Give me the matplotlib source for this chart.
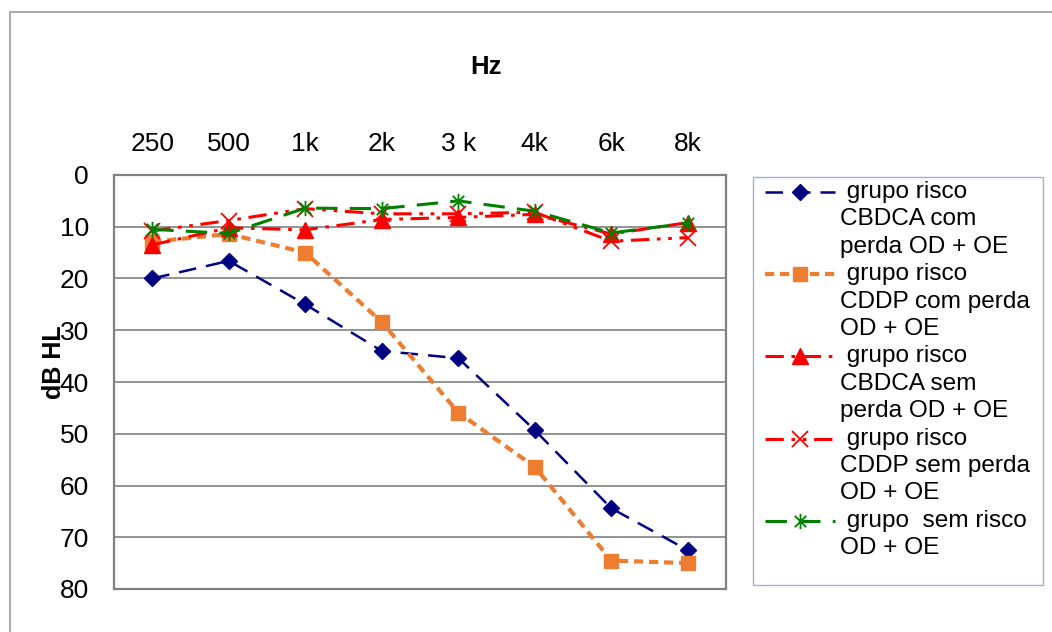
import matplotlib
matplotlib.use("Agg")
import matplotlib.pyplot as plt
from matplotlib.path import Path
from matplotlib.patches import Rectangle
from matplotlib.lines import Line2D

plt.rcParams['font.family'] = ['Liberation Sans', 'DejaVu Sans']

freqs = ["250", "500", "1k", "2k", "3 k", "4k", "6k", "8k"]
cbdca_com = [20, 16.6, 25, 34, 35.4, 49.3, 64.4, 72.5]
cddp_com = [12.9, 11.4, 15, 28.4, 45.9, 56.4, 74.5, 75]
cbdca_sem = [13.5, 10.2, 10.6, 8.6, 8.2, 7.6, 11.4, 9.2]
cddp_sem = [10.8, 8.8, 6.5, 7.5, 7.5, 7.2, 12.8, 12.1]
sem_risco = [10.5, 11.3, 6.4, 6.5, 5.0, 7.0, 11.2, 9.3]

labels = [
    [" grupo risco", "CBDCA com", "perda OD + OE"],
    [" grupo risco", "CDDP com perda", "OD + OE"],
    [" grupo risco", "CBDCA sem", "perda OD + OE"],
    [" grupo risco", "CDDP sem perda", "OD + OE"],
    [" grupo  sem risco", "OD + OE"],
]

W, H = 1052, 632
fig = plt.figure(figsize=(W / 100, H / 100), dpi=100)
fig.patches.append(Rectangle((10 / W, -0.05), 1.2, 1 - 12 / H + 0.05,
                             transform=fig.transFigure, fill=False,
                             edgecolor='#9a9a9a', lw=1.2))

ax = fig.add_axes([114 / W, 1 - 589 / H, (726 - 114) / W, (589 - 175) / H])
x = list(range(len(freqs)))

asterisk = Path([(0, -1), (0, 1), (-0.75, -0.75), (0.75, 0.75), (-0.75, 0.75), (0.75, -0.75)],
                [Path.MOVETO, Path.LINETO, Path.MOVETO, Path.LINETO, Path.MOVETO, Path.LINETO])

styles = [
    dict(color='#000080', lw=1.8, dashes=(7, 4), marker='D', markersize=8.5, zorder=3),
    dict(color='#ED7D31', lw=3.0, dashes=(2.2, 1.4), marker='s', markersize=9.5, zorder=3),
    dict(color='#FF0000', lw=2.2, dashes=(6, 2.5, 1.2, 2.5), marker='^', markersize=11, zorder=4),
    dict(color='#FF0000', lw=2.2, dashes=(6, 2.5, 1.2, 2.5, 1.2, 2.5), marker='x',
         markersize=11, markeredgewidth=1.3, zorder=4),
    dict(color='#008000', lw=2.2, dashes=(7, 4), marker=asterisk, markersize=11,
         markeredgewidth=1.3, markerfacecolor='none', markeredgecolor='#008000', zorder=5),
]
series = [cbdca_com, cddp_com, cbdca_sem, cddp_sem, sem_risco]

for vals, st in zip(series, styles):
    ax.plot(x, vals, **st)

ax.set_xlim(-0.5, len(freqs) - 0.5)
ax.set_ylim(80, 0)
ax.set_yticks(range(0, 81, 10))
ax.set_xticks(x)
ax.set_xticklabels(freqs)
ax.xaxis.tick_top()
ax.tick_params(axis='x', length=0, pad=14, labelsize=19)
ax.tick_params(axis='y', length=0, pad=18, labelsize=19)
ax.yaxis.grid(True, color='#808080', lw=1.2)
ax.set_axisbelow(True)
for s in ax.spines.values():
    s.set_color('#808080')
    s.set_linewidth(1.6)

fig.text(486 / W, 1 - 67 / H, "Hz", ha='center', va='center', fontsize=18.5, fontweight='bold')
fig.text(54 / W, 1 - 362 / H, "dB HL", ha='center', va='center', rotation=90,
         fontsize=18, fontweight='bold')

# manual legend (handle aligned with first line of each label)
fig.patches.append(Rectangle((753 / W, 1 - 585 / H), (1043 - 753) / W, (585 - 177) / H,
                             transform=fig.transFigure, fill=False,
                             edgecolor='#a8b0c8', lw=1.0))
pitch = 27.4
y0 = 192
line_i = 0
for lab, st in zip(labels, styles):
    yc = y0 + line_i * pitch
    yf = 1 - yc / H
    st2 = {k: v for k, v in st.items() if k != 'zorder'}
    fig.add_artist(Line2D([765 / W, 800 / W, 835 / W], [yf, yf, yf],
                          transform=fig.transFigure, markevery=[1], **st2))
    for j, line in enumerate(lab):
        yl = 1 - (yc + j * pitch) / H
        fig.text(840 / W, yl, line, ha='left', va='center', fontsize=17.6)
    line_i += len(lab)

fig.savefig("out.png", dpi=100)
